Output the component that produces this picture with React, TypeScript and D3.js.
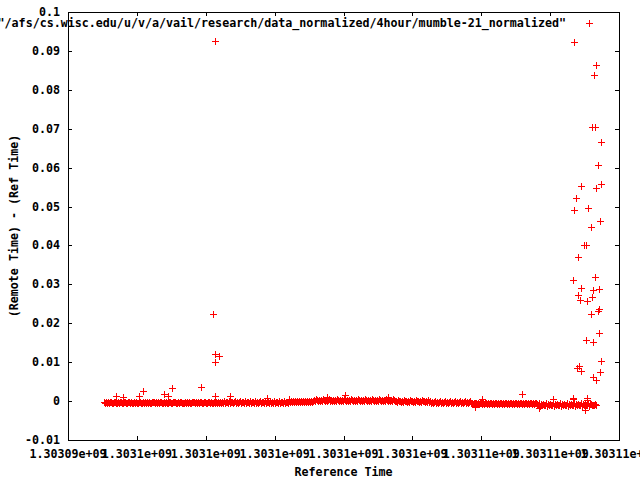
import React from "react";
import * as d3 from "d3";

const W = 640;
const H = 480;

// x axis ticks (Reference Time, seconds)
const xTicks = [1303094000, 1303096000, 1303098000, 1303100000, 1303102000, 1303104000, 1303106000, 1303108000, 1303110000];
const xTickLabels = ["1.30309e+09", "1.3031e+09", "1.3031e+09", "1.3031e+09", "1.3031e+09", "1.3031e+09", "1.30311e+09", "1.30311e+09", "1.30311e+09"];
const yTicks = [-0.01, 0, 0.01, 0.02, 0.03, 0.04, 0.05, 0.06, 0.07, 0.08, 0.09, 0.1];
const yTickLabels = ["-0.01", "0", "0.01", "0.02", "0.03", "0.04", "0.05", "0.06", "0.07", "0.08", "0.09", "0.1"];

const seriesName = '"/afs/cs.wisc.edu/u/v/a/vail/research/data_normalized/4hour/mumble-21_normalized"';
const xLabel = "Reference Time";
const yLabel = "(Remote Time) - (Ref Time)";

// isolated points (time, offset)
const outlierTimes = [
  1303108693, 1303109323, 1303109274, 1303109225, 1303109303, 1303109486, 1303109399, 1303108905,
  1303109469, 1303109332, 1303108760, 1303108693, 1303109109, 1303109440, 1303109196, 1303108992,
  1303109050, 1303108801, 1303108664, 1303109312, 1303108896, 1303109254, 1303109410, 1303108818,
  1303108876, 1303109062, 1303109225, 1303109428, 1303109381, 1303109196, 1303109410, 1303109050,
  1303109245, 1303109469, 1303108772, 1303108838, 1303108888, 1303109457, 1303109254, 1303109323,
  1303108664, 1303109080, 1303108092,
  1303098277, 1303098211, 1303098277, 1303098376, 1303098277, 1303097871, 1303098277, 1303098713,
  1303095403, 1303095606, 1303096070, 1303096187, 1303096788, 1303096913, 1303097034, 1303099787,
  1303100423, 1303101521, 1303102044, 1303103301, 1303106013, 1303107192, 1303108673, 1303109062,
  1303105818, 1303107668, 1303109013,
];
const outlierValues = [
  0.0922, 0.0864, 0.0837, 0.0704, 0.0704, 0.0666, 0.0606, 0.0553,
  0.0559, 0.0548, 0.0523, 0.0492, 0.0497, 0.0462, 0.0447, 0.04,
  0.04, 0.0371, 0.031, 0.0318, 0.029, 0.0285, 0.0289, 0.0273,
  0.0259, 0.0256, 0.0267, 0.0237, 0.0231, 0.0224, 0.0176, 0.0158,
  0.0153, 0.0104, 0.0085, 0.0091, 0.0078, 0.0076, 0.0063, 0.0055,
  0.0009, 0.0009, 0.0006,
  0.0925, 0.0225, 0.0121, 0.0116, 0.01, 0.0036, 0.0014, 0.0014,
  0.0012, 0.0011, 0.0012, 0.0027, 0.0019, 0.0013, 0.0033, 0.0009,
  0.0006, 0.001, 0.0016, 0.001, 0.0006, 0.0018, 0.0006, 0.0002,
  -0.0016, -0.0019, -0.0022,
];

// densely sampled offsets (units of 1e-4 s), one sample every bandInterval seconds
const bandStartTime = 1303095045;
const bandInterval = 29;
const bandValues = [
  -3,-4,-2,-5,-3,-4,-3,-2,-5,-4, -3,-2,-4,-5,-3,-4,-2,-3,-5,-4, -2,-3,-4,-5,-3,-2,-4,-3,-5,-4,
  -3,-4,-2,-5,-4,-3,-2,-4,-5,-3, -4,-3,-5,-2,-4,-3,-4,-5,-2,-3, -3,-4,-2,-5,-3,-4,-3,-2,-5,-4,
  -2,-4,-3,-5,-4,-2,-3,-4,-5,-3, -3,-2,-4,-5,-3,-4,-2,-3,-5,-4, -4,-3,-5,-2,-4,-3,-4,-5,-2,-3,
  -3,-4,-2,-5,-3,-4,-3,-2,-5,-4, -2,-3,-4,-5,-3,-2,-4,-3,-5,-4, -3,-4,-2,-5,-3,-4,-3,-5,
  -2,-4,-1,-5,-3,-2,-4,-1,-5,-3, -2,-4,-3,-1,-5,-2,-4,-3,-1,-5, -3,-2,-4,-1,-5,-3,-2,-4,-1,-5,
  -2,-3,-4,-1,-5,-2,-4,-3,-1,-5, -3,-2,-4,-1,-5,-3,-2,-4,-1,-5, -2,-4,-1,-5,-3,-2,-4,-1,-5,-3,
  -2,-4,-1,-5,-3,-2,-4,
  -1,-2,0,-3,-1,-2,0,-3,-1,-2, 0,-3,-1,-2,0,-3,-1,-2,0,-3, -1,-2,0,-3,-1,
  4,1,5,2,-1,3,0,4,1,5, 2,-1,3,0,4,5,1,2,-1,3, 0,4,1,5,2,-1,3,0,4,1, 5,2,-1,3,0,4,1,5,2,-1,
  3,0,4,1,5,2,-1,3,0,4, 1,5,2,-1,3,0,4,1,5,2, -1,3,0,4,1,5,2,-1,3,0, 4,1,5,2,-1,3,0,4,1,5,
  2,-1,
  1,-2,2,-1,0,-3,1,-2,2,-1, 0,-3,1,-2,2,-1,0,-3,1,-2, 2,-1,0,-3,1,-2,2,-1,0,-3, 1,-2,2,
  -3,-1,-5,-2,-4,-3,-1,-5,-2,-4, -3,-1,-5,-2,-4,-3,-1,-5,-2,-4, -3,-1,-5,-2,-4,-3,-1,-5,-2,-4,
  -3,-1,-5,-2,-4,-3,-1,-5,-2,-4, -3,-1,
  -6,-4,-8,-5,-7,-6,-4,-8,-5,-7, -6,-4,-8,-5,-7,-6,-4,-8,-5,-7, -6,-4,-8,-5,-7,-6,-4,-8,-5,-7,
  -6,-4,-8,-5,-7,-6,-4,-8,-5,-7, -6,-4,-8,-5,-7,-6,-4,-8,-5,-7, -6,-4,-8,-5,-7,-6,-4,-8,-5,-7,
  -6,-4,-8,-5,-7,-6,-4,-8,
  -9,-6,-12,-8,-10,-7,-11,-9,-6,-12, -8,-10,-7,-11,-9,-6,-12,-8,-10,-7, -11,-9,-6,-12,-8,-10,-7,-11,-9,-6,
  -12,-8,-10,-7,-11,-9,-6,-12,-8,-10, -7,-11,-9,-6,-12,-8,-10,-7,-11,-9, -6,-12,-8,
  -8,-9,-10,-9,-8,-9,
];

const L = 68, R = 619, T = 12, B = 440;
const FONT = "'DejaVu Sans Mono', 'Liberation Mono', monospace";
const FS = 11.67;

function plus(x: number, y: number) {
  const cx = Math.round(x) + 0.5;
  const cy = Math.round(y) + 0.5;
  return `M${cx - 3.5},${cy}h7M${cx},${cy - 3.5}v7`;
}

export default function App() {
  const x = d3.scaleLinear().domain([1303094000, 1303110000]).range([L, R]);
  const y = d3.scaleLinear().domain([-0.01, 0.1]).range([B, T]);

  let d = "";
  bandValues.forEach((v, i) => {
    d += plus(x(bandStartTime + i * bandInterval), y(v * 1e-4));
  });
  outlierTimes.forEach((t, i) => {
    d += plus(x(t), y(outlierValues[i]));
  });

  const tickLen = 4;
  let ticks = "";
  xTicks.forEach((t) => {
    const px = Math.round(x(t)) + 0.5;
    ticks += `M${px},${B}v${-tickLen}M${px},${T}v${tickLen}`;
  });
  yTicks.forEach((v) => {
    const py = Math.round(y(v)) + 0.5;
    ticks += `M${L},${py}h${tickLen}M${R},${py}h${-tickLen}`;
  });

  return (
    <svg width={W} height={H} style={{ position: "absolute", left: 0, top: 0, background: "#fff" }}
      fontFamily={FONT} fontSize={FS} fontWeight="bold">
      <rect x={0} y={0} width={W} height={H} fill="#fff" />
      <rect x={L + 0.5} y={T + 0.5} width={R - L} height={B - T} fill="none" stroke="#000" strokeWidth={1} shapeRendering="crispEdges" />
      <path d={ticks} stroke="#000" strokeWidth={1} fill="none" shapeRendering="crispEdges" />
      {yTicks.map((v, i) => (
        <text key={"yl" + i} x={L - 8} y={y(v)} textAnchor="end" dominantBaseline="central" fill="#000">{yTickLabels[i]}</text>
      ))}
      {xTicks.map((t, i) => (
        <text key={"xl" + i} x={x(t)} y={454} textAnchor="middle" dominantBaseline="central" fill="#000">{xTickLabels[i]}</text>
      ))}
      <text x={(L + R) / 2} y={472} textAnchor="middle" dominantBaseline="central" fill="#000">{xLabel}</text>
      <text transform={`translate(14,${(T + B) / 2}) rotate(-90)`} textAnchor="middle" dominantBaseline="central" fill="#000">{yLabel}</text>
      <text x={566} y={23} textAnchor="end" dominantBaseline="central" fill="#000">{seriesName}</text>
      <path d={plus(589, 23)} stroke="#ff0000" strokeWidth={1} fill="none" shapeRendering="crispEdges" />
      <path d={d} stroke="#ff0000" strokeWidth={1} fill="none" shapeRendering="crispEdges" />
    </svg>
  );
}
